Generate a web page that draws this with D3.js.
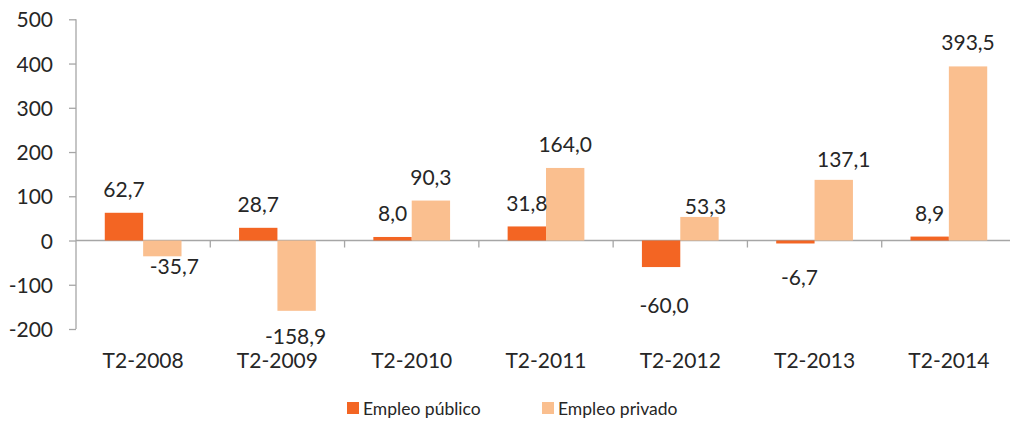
<!DOCTYPE html>
<html lang="es">
  <head>
    <meta charset="utf-8" />
    <script type="text/javascript" src="https://d3js.org/d3.v7.min.js"></script>
    <style>
      body { margin: 0; background: #fff; }
      text { font-family: Lato, "Open Sans", sans-serif; fill: #262626; }
    </style>
  </head>

  <body>
    <script type="text/javascript">
      let categories = ["T2-2008", "T2-2009", "T2-2010", "T2-2011", "T2-2012", "T2-2013", "T2-2014"];
      let seriesNames = ["Empleo público", "Empleo privado"];
      let publico = [62.7, 28.7, 8.0, 31.8, -60.0, -6.7, 8.9];
      let privado = [-35.7, -158.9, 90.3, 164.0, 53.3, 137.1, 393.5];
      let yTicks = [-200, -100, 0, 100, 200, 300, 400, 500];

      // small hand nudges for labels that were moved in the original
      let publicoNudge = [[0, 0], [0, 0], [0, 0], [0, 0], [3, 15], [4, 10], [0, 0]];
      let privadoNudge = [[12, -13], [-1, 2], [0, 0], [0, 0], [6, 13], [10, 3], [0, 0]];

      let colors = ["#F36523", "#FABF8F"];

      let w = 1010;
      let h = 421;
      let mLeft = 76, mRight = 1016, mTop = 19.3, mBottom = 329;

      let svg = d3.select("body").append("svg").attr("width", w).attr("height", h);

      let y = d3.scaleLinear().domain([-200, 500]).range([mBottom, mTop]);
      let x0 = d3.scaleBand().domain(categories).range([mLeft, mRight]);
      let x1 = d3.scaleBand().domain(seriesNames).range([0, x0.bandwidth()]).paddingOuter(0.75);

      // comma decimals, plain hyphen for negatives
      let fmt = (v) => d3.format(".1f")(v).replace(".", ",").replace("\u2212", "-");
      let fmtTick = (v) => d3.format("d")(v).replace("\u2212", "-");

      // y axis
      let yAxis = svg.append("g").attr("transform", "translate(" + mLeft + ",0)")
        .call(d3.axisLeft(y).tickValues(yTicks).tickSize(7).tickPadding(16).tickFormat(fmtTick));
      yAxis.select(".domain").attr("stroke", "#A6A6A6").attr("stroke-width", 1.3).attr("d", "M0," + y(500) + "V" + y(-200));
      yAxis.selectAll(".tick line").attr("stroke", "#A6A6A6").attr("stroke-width", 1.3);
      yAxis.selectAll(".tick text").attr("font-size", "21px").attr("fill", "#262626").attr("dy", "0.36em")
        .attr("font-family", "Lato, 'Open Sans', sans-serif");

      // zero line with category ticks
      svg.append("line").attr("x1", mLeft).attr("x2", mRight).attr("y1", y(0)).attr("y2", y(0))
        .attr("stroke", "#A6A6A6").attr("stroke-width", 1.3);
      svg.selectAll(".ctick").data(categories.slice(1)).join("line").attr("class", "ctick")
        .attr("x1", (d) => x0(d)).attr("x2", (d) => x0(d))
        .attr("y1", y(0)).attr("y2", y(0) + 7)
        .attr("stroke", "#A6A6A6").attr("stroke-width", 1.3);

      // bars
      let rows = [];
      categories.forEach((c, i) => {
        rows.push({ cat: c, s: 0, v: publico[i], nudge: publicoNudge[i] });
        rows.push({ cat: c, s: 1, v: privado[i], nudge: privadoNudge[i] });
      });

      svg.selectAll("rect.bar").data(rows).join("rect").attr("class", "bar")
        .attr("x", (d) => x0(d.cat) + x1(seriesNames[d.s]))
        .attr("width", x1.bandwidth())
        .attr("y", (d) => y(Math.max(0, d.v)))
        .attr("height", (d) => Math.abs(y(d.v) - y(0)))
        .attr("fill", (d) => colors[d.s]);

      // data labels
      svg.selectAll("text.lbl").data(rows).join("text").attr("class", "lbl")
        .text((d) => fmt(d.v))
        .attr("x", (d) => x0(d.cat) + x1(seriesNames[d.s]) + x1.bandwidth() / 2 + d.nudge[0])
        .attr("y", (d) => (d.v >= 0 ? y(d.v) - 23.5 : y(d.v) + 23.5) + d.nudge[1])
        .attr("dy", "0.36em")
        .attr("text-anchor", "middle")
        .attr("font-size", "21px");

      // category labels
      svg.selectAll("text.cat").data(categories).join("text").attr("class", "cat")
        .text((d) => d)
        .attr("x", (d) => x0(d) + x0.bandwidth() / 2)
        .attr("y", 368.3)
        .attr("text-anchor", "middle")
        .attr("font-size", "21px");

      // legend
      let legendX = [347, 542];
      let lg = svg.selectAll("g.leg").data(seriesNames).join("g").attr("class", "leg")
        .attr("transform", (d, i) => "translate(" + legendX[i] + ",402)");
      lg.append("rect").attr("width", 12).attr("height", 12).attr("fill", (d, i) => colors[i]);
      lg.append("text").text((d) => d).attr("x", 16).attr("y", 12.5).attr("font-size", "17.5px");
    </script>
  </body>
</html>
